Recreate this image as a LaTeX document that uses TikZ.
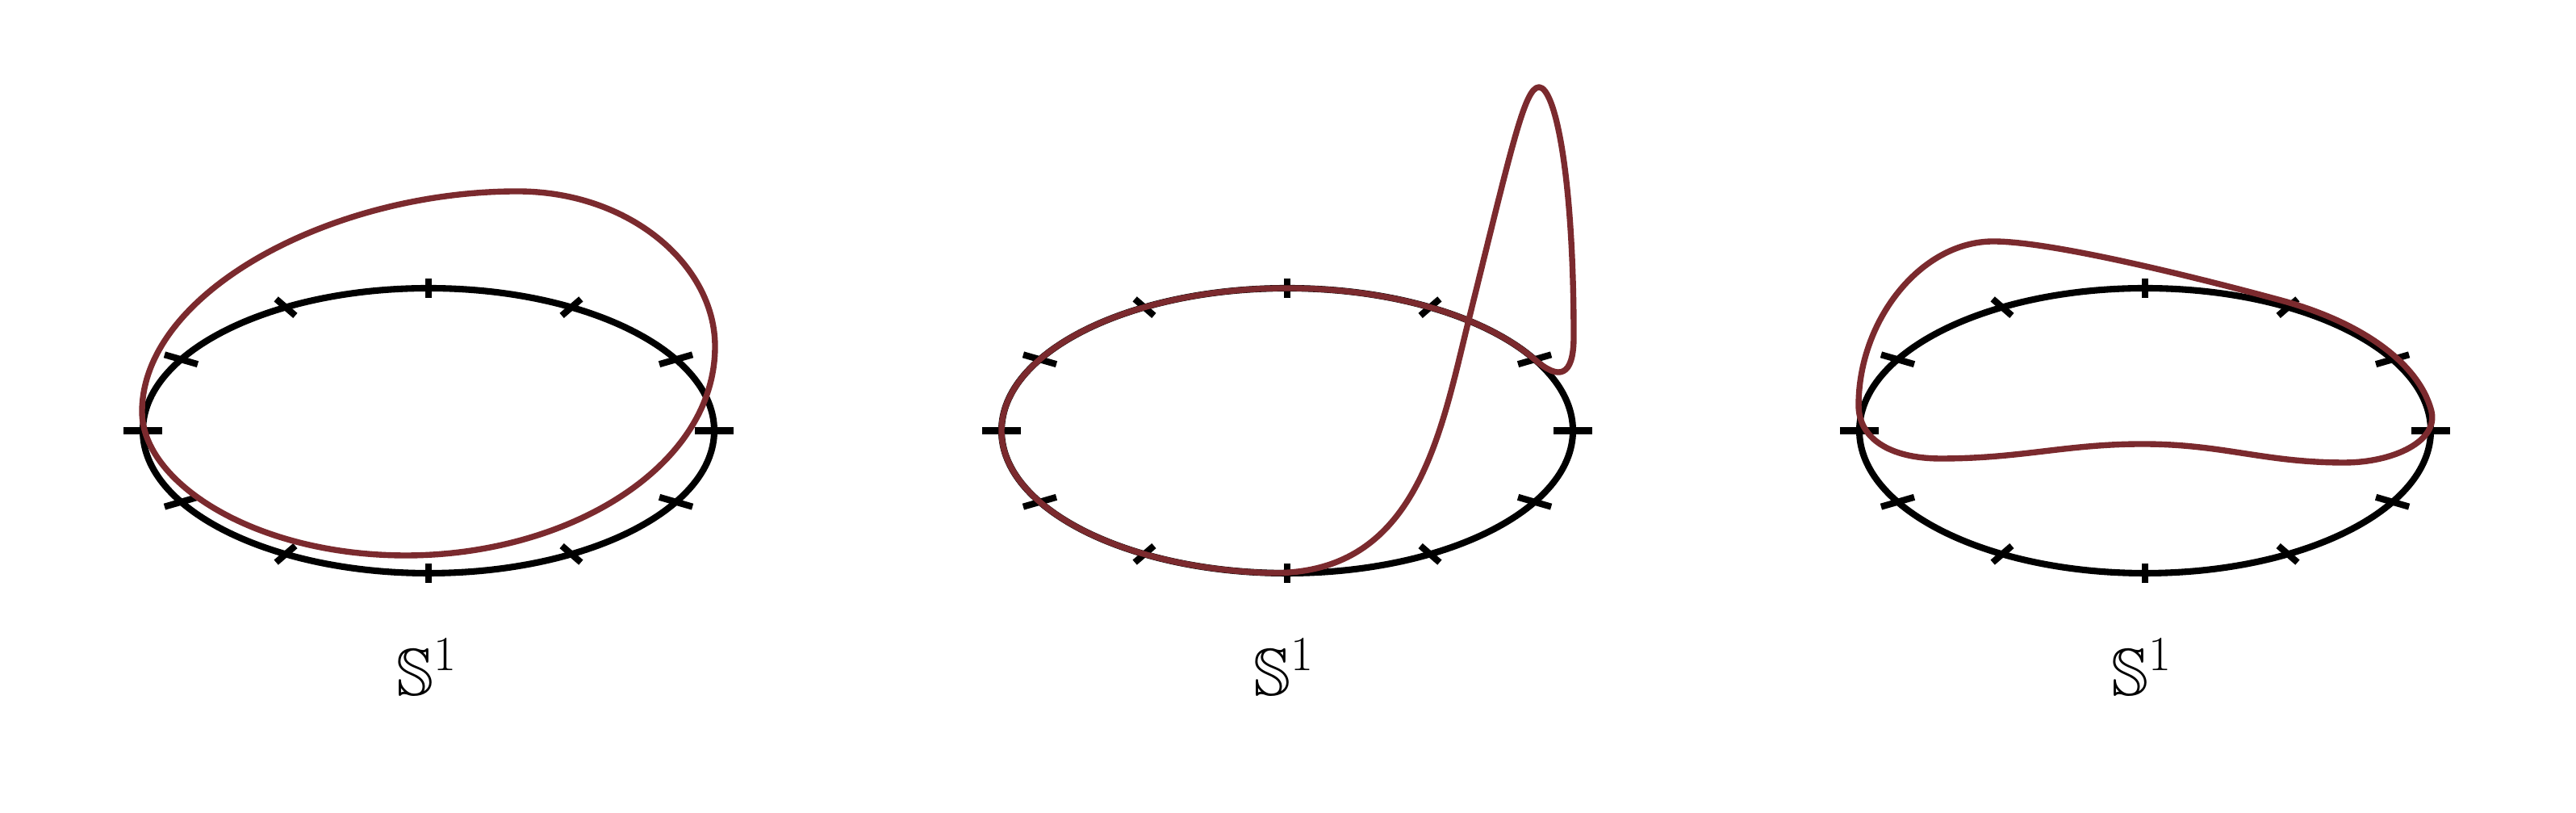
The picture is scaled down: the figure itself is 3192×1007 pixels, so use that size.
\documentclass[tikz,border=0pt]{standalone}
\usepackage{amssymb}
\definecolor{curvered}{RGB}{123,42,46}
\begin{document}
\begin{tikzpicture}[x=0.01cm,y=0.01cm,
  circ/.style={line width=2.3pt, black},
  tk/.style={line width=2.3pt, black},
  redcurve/.style={line width=2.1pt, curvered, line join=round, line cap=round},
  lbl/.style={anchor=base, font=\fontsize{23.5}{28}\selectfont, inner sep=0pt}]
\useasboundingbox (0,0) rectangle (3192,1007);
\foreach \cx/\n in {531/1,1595/2,2658/3}{
  \coordinate (c\n) at (\cx,473.5);
  \begin{scope}[shift={(c\n)}, xscale=354, yscale=176.5]
    \draw[circ] (0,0) circle (1);
    \foreach \t in {0,30,...,330} \draw[tk] (\t:0.933) -- (\t:1.067);
  \end{scope}
}
% curve 1
\draw[redcurve] (641,770) .. controls (411,770) and (176,645) .. (176,497)
  .. controls (176,410) and (315,319) .. (503,319)
  .. controls (703,319) and (886,428) .. (886,578)
  .. controls (886,678) and (781,770) .. (641,770) -- cycle;
% curve 2
\draw[redcurve] (1901.6,561.75) arc[start angle=30, end angle=265, x radius=354, y radius=176.5]
  .. controls (1754,288) and (1784,465.5) .. (1820,611)
  .. controls (1873,824) and (1889,899) .. (1907,899)
  .. controls (1927,899) and (1950,790) .. (1950,590)
  .. controls (1950,540) and (1931.8,535.5) .. (1901.6,561.75);
% curve 3
\draw[redcurve] (3012.5,499) arc[start angle=8, end angle=62, x radius=358, y radius=183]
  .. controls (2710.3,666.5) and (2540,708) .. (2470,708)
  .. controls (2380,708) and (2303,610) .. (2303,505)
  .. controls (2303,465) and (2340,439) .. (2405,439)
  .. controls (2505,439) and (2560,457) .. (2655,457)
  .. controls (2755,457) and (2805,434) .. (2905,434)
  .. controls (2965,434) and (3023.1,460.5) .. (3012.5,499);
\node[lbl] (s1) at (529,145) {$\mathbb{S}^1$};
\node[lbl] (s2) at (1591,145) {$\mathbb{S}^1$};
\node[lbl] (s3) at (2654,145) {$\mathbb{S}^1$};
\end{tikzpicture}
\end{document}
